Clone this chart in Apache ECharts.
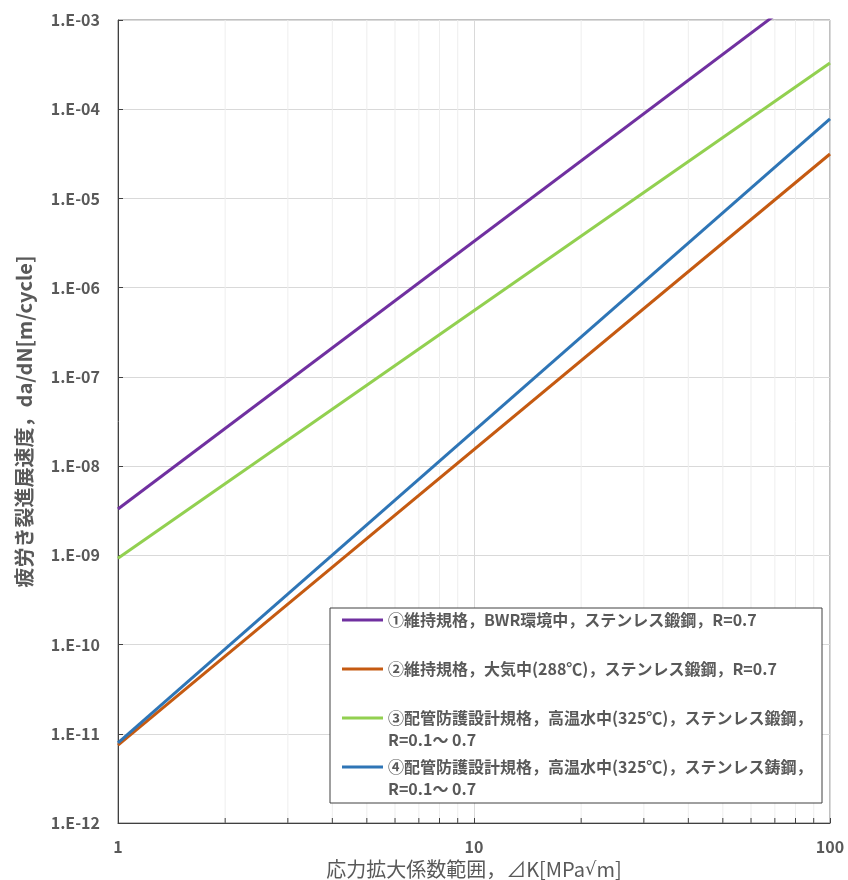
<!DOCTYPE html>
<html>
<head>
<meta charset="utf-8">
<script src="https://cdn.jsdelivr.net/npm/echarts@6/dist/echarts.min.js"></script>
<style>
  html, body { margin: 0; padding: 0; background: #ffffff; }
  #chart { width: 848px; height: 880px; }
</style>
</head>
<body>
<div id="chart"></div>
<script>
// ΔK endpoints [MPa√m]
const deltaK = [1, 100];
// da/dN [m/cycle] at the ΔK endpoints
const s1Values = [3.3e-9, 3.3e-3];   // ① purple
const s2Values = [7.45e-12, 3.15e-5]; // ② orange
const s3Values = [9.3e-10, 3.3e-4];  // ③ green
const s4Values = [7.9e-12, 7.8e-5];  // ④ blue
const seriesNames = [
  '①維持規格，BWR環境中，ステンレス鍛鋼，R=0.7',
  '②維持規格，大気中(288℃)，ステンレス鍛鋼，R=0.7',
  '③配管防護設計規格，高温水中(325℃)，ステンレス鍛鋼，\nR=0.1～ 0.7',
  '④配管防護設計規格，高温水中(325℃)，ステンレス鋳鋼，\nR=0.1～ 0.7'
];
const seriesColors = ['#7030A0', '#C55A11', '#92D050', '#2E75B6'];
// minor x gridline positions
const minorK = [2, 3, 4, 5, 6, 7, 8, 9, 20, 30, 40, 50, 60, 70, 80, 90];

const allValues = [s1Values, s2Values, s3Values, s4Values];
const FONT = '"Noto Sans CJK JP", "Noto Sans", sans-serif';
const GREY = '#595959';

function yFmt(v) {
  const e = Math.round(Math.log10(v));
  return '1.E' + (e < 0 ? '-' : '+') + String(Math.abs(e)).padStart(2, '0');
}

const chart = echarts.init(document.getElementById('chart'), null, { renderer: 'canvas' });

const lineSeries = allValues.map((vals, i) => ({
  name: seriesNames[i],
  type: 'line',
  data: deltaK.map((k, j) => [k, vals[j]]),
  symbol: 'none',
  showSymbol: false,
  clip: true,
  z: 2,
  lineStyle: { color: seriesColors[i], width: 3 },
  itemStyle: { color: seriesColors[i] }
}));

const minorSeries = {
  type: 'custom',
  name: 'minor',
  z: 1,
  silent: true,
  data: minorK.map(k => [k]),
  encode: { x: 0 },
  renderItem: function (params, api) {
    const cs = params.coordSys;
    const px = api.coord([api.value(0), 1])[0];
    const top = cs.y;
    const bot = cs.y + cs.height;
    return {
      type: 'group',
      children: [
        { type: 'line', shape: { x1: px, y1: bot, x2: px, y2: top }, style: { stroke: '#eeeeee', lineWidth: 1 } },
        { type: 'line', shape: { x1: px, y1: bot, x2: px, y2: bot - 5 }, style: { stroke: '#404040', lineWidth: 1 } }
      ]
    };
  }
};

const option = {
  animation: false,
  backgroundColor: '#ffffff',
  textStyle: { fontFamily: FONT },
  grid: {
    left: 118, right: 18, top: 20, bottom: 57,
    outerBoundsMode: 'none',
    containLabel: false,
    show: true, borderColor: '#808080', borderWidth: 1, backgroundColor: 'transparent'
  },
  graphic: [{
    type: 'rect',
    z: 3,
    silent: true,
    shape: { x: 330, y: 608, width: 492, height: 195 },
    style: { fill: '#ffffff', stroke: '#404040', lineWidth: 1 }
  }],
  legend: {
    orient: 'vertical',
    left: 342,
    top: 587,
    padding: 0,
    itemGap: -17,
    itemWidth: 41,
    itemHeight: 3,
    icon: 'rect',
    z: 4,
    textStyle: { color: GREY, fontSize: 16, fontWeight: 'bold', fontFamily: FONT, lineHeight: 22 },
    formatter: function (name) {
      return '\n' + name + (name.indexOf('\n') >= 0 ? '' : '\n');
    },
    data: seriesNames
  },
  xAxis: {
    type: 'log',
    logBase: 10,
    min: 1,
    max: 100,
    splitNumber: 2,
    name: '応力拡大係数範囲，⊿K[MPa{r|√}m]',
    nameLocation: 'middle',
    nameGap: 25,
    nameTextStyle: {
      color: GREY, fontSize: 20, fontFamily: FONT,
      rich: { r: { color: GREY, fontSize: 18, fontFamily: '"DejaVu Sans", sans-serif' } }
    },
    axisLine: { show: true, lineStyle: { color: '#404040', width: 1 } },
    axisTick: { show: true, inside: true, length: 5, lineStyle: { color: '#404040' } },
    axisLabel: { color: GREY, fontSize: 16, fontWeight: 'bold', margin: 16, fontFamily: FONT },
    splitLine: { show: true, lineStyle: { color: '#d9d9d9', width: 1 } },
    minorTick: { show: false },
    minorSplitLine: { show: false }
  },
  yAxis: {
    type: 'log',
    logBase: 10,
    min: 1e-12,
    max: 1e-3,
    splitNumber: 9,
    name: '疲労き裂進展速度，da/dN[m/cycle]',
    nameLocation: 'middle',
    nameGap: 84,
    nameTextStyle: { color: GREY, fontSize: 20, fontWeight: 'bold', fontFamily: FONT },
    axisLine: { show: true, lineStyle: { color: '#404040', width: 1 } },
    axisTick: { show: true, inside: true, length: 5, lineStyle: { color: '#404040' } },
    axisLabel: { color: GREY, fontSize: 16, fontWeight: 'bold', margin: 18, fontFamily: FONT, formatter: yFmt },
    splitLine: { show: true, lineStyle: { color: '#d9d9d9', width: 1 } }
  },
  series: [minorSeries].concat(lineSeries)
};

chart.setOption(option);
</script>
</body>
</html>
